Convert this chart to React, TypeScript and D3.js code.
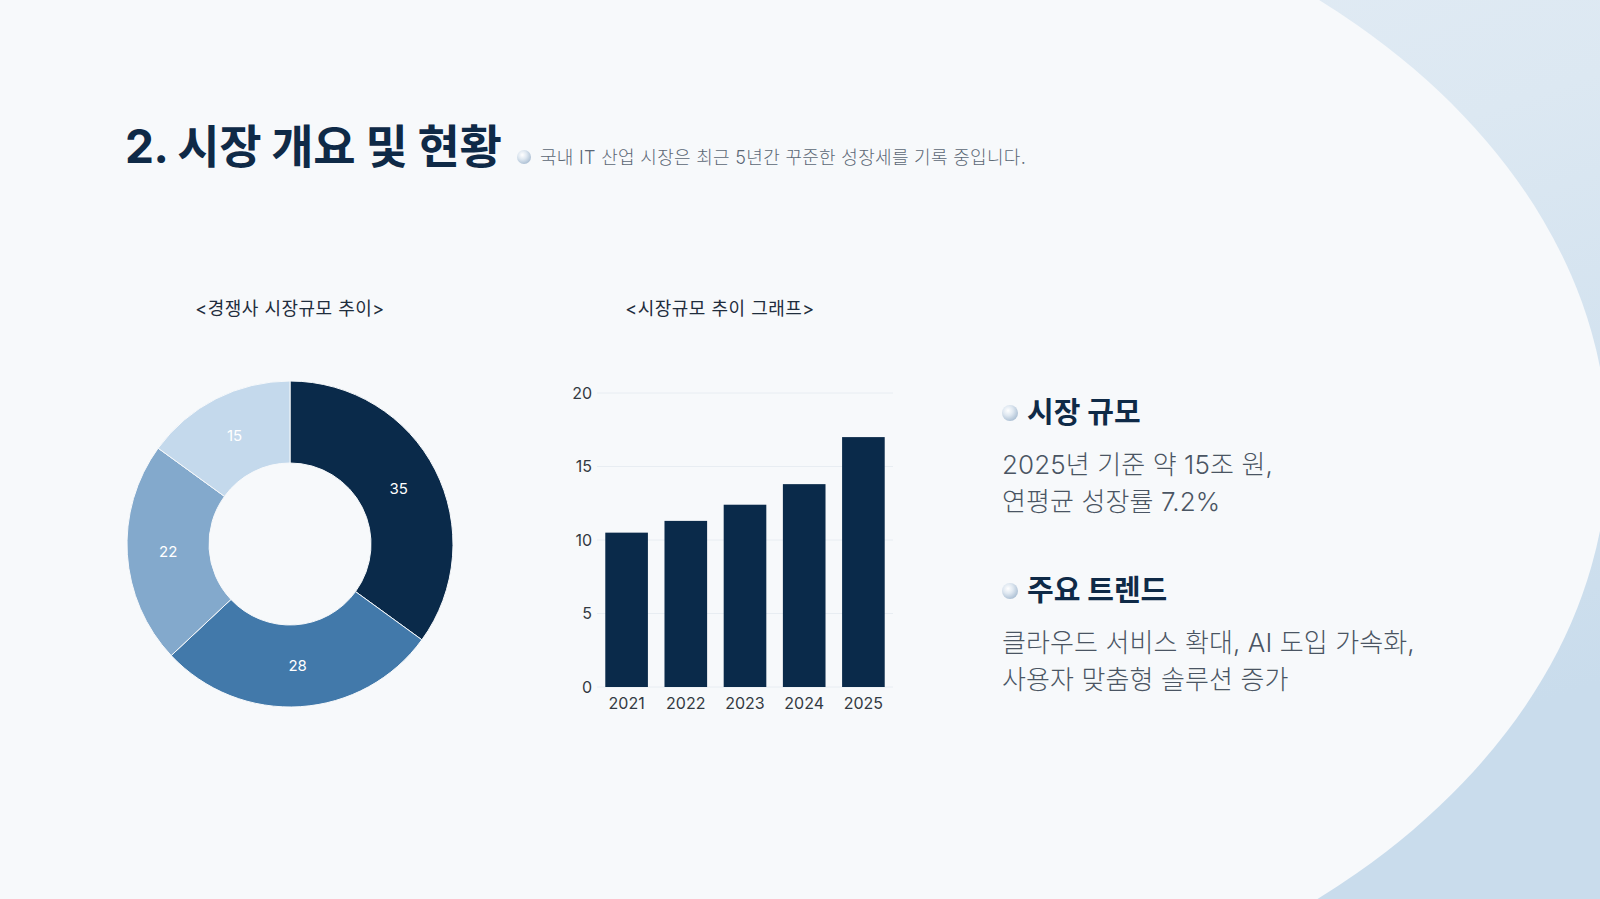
import React from "react";
import * as d3 from "d3";

const W = 1600;
const H = 899;

const donutCategories = ["A", "B", "C", "D"];
const donutValues = [35, 28, 22, 15];
const donutColors = ["#0a2a4a", "#4279aa", "#83a9cc", "#c4d9ec"];

const barYears = ["2021", "2022", "2023", "2024", "2025"];
const barValues = [10.5, 11.3, 12.4, 13.8, 17.0];
const yTicks = [0, 5, 10, 15, 20];

const heading = "2. 시장 개요 및 현황";
const subheading = "국내 IT 산업 시장은 최근 5년간 꾸준한 성장세를 기록 중입니다.";
const donutTitle = "<경쟁사 시장규모 추이>";
const barTitle = "<시장규모 추이 그래프>";
const sections = [
  { title: "시장 규모", lines: ["2025년 기준 약 15조 원,", "연평균 성장률 7.2%"] },
  { title: "주요 트렌드", lines: ["클라우드 서비스 확대, AI 도입 가속화,", "사용자 맞춤형 솔루션 증가"] },
];

const FONT = "Inter, 'Noto Sans CJK KR', 'Noto Sans', sans-serif";

function Bullet({ cx, cy, r }: { cx: number; cy: number; r: number }) {
  return <circle cx={cx} cy={cy} r={r} fill="url(#sphere)" />;
}

export default function App() {
  // donut
  const cx = 290;
  const cy = 544;
  const pie = d3
    .pie<number>()
    .sort(null)
    .value((d) => d)(donutValues);
  const arc = d3.arc<d3.PieArcDatum<number>>().innerRadius(81).outerRadius(163);

  // bars
  const x = d3
    .scaleBand<string>()
    .domain(barYears)
    .range([597, 893])
    .paddingInner(0.28)
    .paddingOuter(0.14);
  const y = d3.scaleLinear().domain([0, 20]).range([687, 393]);

  // background shape: left part plus a large ellipse on the right
  const ex = 750, ey = 449, erx = 858, ery = 600;

  return (
    <div style={{ position: "fixed", left: 0, top: 0, width: W, height: H }}>
      <svg width={W} height={H} style={{ display: "block", fontFamily: FONT }}>
        <defs>
          <linearGradient id="bgOut" x1="0" y1="0" x2="0.6" y2="1">
            <stop offset="0" stopColor="#e8eff7" />
            <stop offset="0.5" stopColor="#dce8f2" />
            <stop offset="1" stopColor="#c9dcec" />
          </linearGradient>
          <radialGradient id="sphere" cx="0.38" cy="0.35" r="0.7">
            <stop offset="0" stopColor="#ffffff" />
            <stop offset="0.45" stopColor="#dfe8f1" />
            <stop offset="1" stopColor="#a9bdd2" />
          </radialGradient>
        </defs>
        <rect x={0} y={0} width={W} height={H} fill="url(#bgOut)" />
        <ellipse cx={ex} cy={ey} rx={erx} ry={ery} fill="#f7f9fb" />
        <rect x={0} y={0} width={ex} height={H} fill="#f7f9fb" />

        {/* header */}
        <text x={125} y={163} fontSize={46} fontWeight={700} fill="#0f2a47" letterSpacing={-0.5}>
          {heading}
        </text>
        <Bullet cx={524} cy={157} r={7} />
        <text x={540} y={164} fontSize={18} fontWeight={300} fill="#5b6775" letterSpacing={0.3}>
          {subheading}
        </text>

        {/* donut */}
        <text x={290} y={315} textAnchor="middle" fontSize={18} fontWeight={400} fill="#1f2d3d" letterSpacing={0.5}>
          {donutTitle}
        </text>
        <g transform={`translate(${cx},${cy})`}>
          {pie.map((p, i) => (
            <path key={donutCategories[i]} d={arc(p) || ""} fill={donutColors[i]} stroke="#f7f9fb" strokeWidth={1} />
          ))}
          {pie.map((p, i) => {
            const [lx, ly] = arc.centroid(p);
            return (
              <text
                key={"l" + i}
                x={lx}
                y={ly}
                dy="0.35em"
                textAnchor="middle"
                fontSize={15}
                fill="#ffffff"
              >
                {donutValues[i]}
              </text>
            );
          })}
        </g>

        {/* bar chart */}
        <text x={720} y={315} textAnchor="middle" fontSize={18} fontWeight={400} fill="#1f2d3d" letterSpacing={0.5}>
          {barTitle}
        </text>
        {yTicks.map((t) => (
          <g key={t}>
            <line x1={597} x2={893} y1={y(t)} y2={y(t)} stroke="#e8edf2" strokeWidth={1} />
            <text x={592} y={y(t)} dy="0.35em" textAnchor="end" fontSize={16} fill="#333a42">
              {t}
            </text>
          </g>
        ))}
        {barValues.map((v, i) => (
          <rect
            key={barYears[i]}
            x={x(barYears[i])}
            y={y(v)}
            width={x.bandwidth()}
            height={y(0) - y(v)}
            fill="#0a2a4a"
          />
        ))}
        {barYears.map((yr) => (
          <text
            key={yr}
            x={(x(yr) || 0) + x.bandwidth() / 2}
            y={709}
            textAnchor="middle"
            fontSize={16}
            fill="#333a42"
          >
            {yr}
          </text>
        ))}

        {/* right text */}
        {sections.map((s, si) => {
          const base = si === 0 ? 423 : 601;
          return (
            <g key={s.title}>
              <Bullet cx={1010} cy={base - 10} r={8} />
              <text x={1027} y={base} fontSize={29} fontWeight={700} fill="#0f2a47" letterSpacing={0}>
                {s.title}
              </text>
              {s.lines.map((ln, li) => (
                <text
                  key={li}
                  x={1002}
                  y={base + 51 + li * 37}
                  fontSize={26}
                  fontWeight={300}
                  fill="#4a5563"
                  letterSpacing={0.1}
                >
                  {ln}
                </text>
              ))}
            </g>
          );
        })}
      </svg>
    </div>
  );
}
